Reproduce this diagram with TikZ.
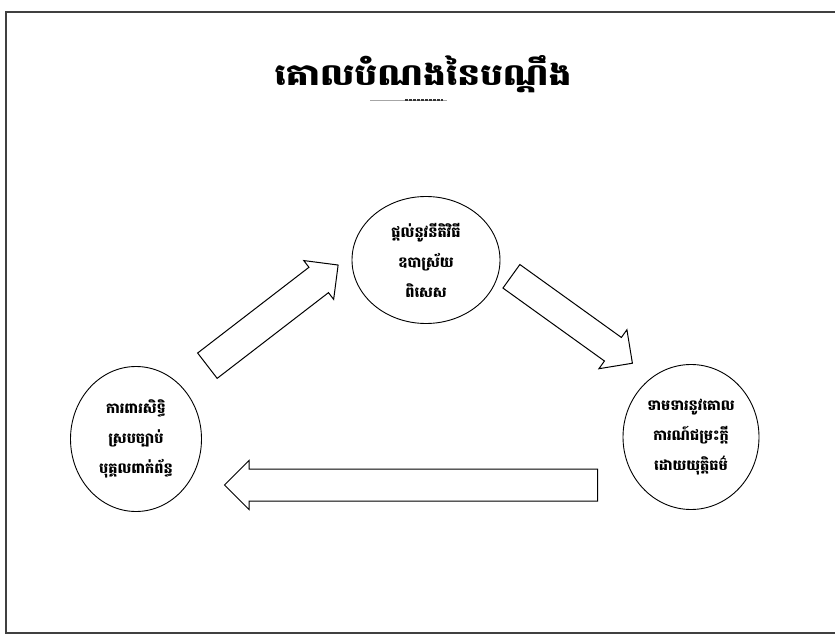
\documentclass[tikz,border=0pt]{standalone}
\usepackage{fontspec}
\newfontfamily\khmer[Script=Khmer]{Battambang}
\newfontfamily\khmerwide[Script=Khmer, FakeStretch=1.2]{Battambang}
\usetikzlibrary{shapes.geometric,shapes.arrows}

\tikzset{
  goal/.style={draw, ellipse, line width=0.9pt, inner sep=0pt, align=center,
    font=\khmer\bfseries\fontsize{14.5}{30}\selectfont},
  bigarrow/.style={draw, single arrow, line width=1pt, fill=white,
    inner xsep=0pt, inner ysep=15.5pt,
    single arrow head extend=8.5pt, single arrow head indent=0pt, anchor=tail}
}

\begin{document}
\begin{tikzpicture}[x=1pt,y=1pt]

  \useasboundingbox (0,0) rectangle (835,641);

  %% frame (right side runs off the page)
  \draw[line width=1.5pt, black!75] (836,629) -- (6,629) -- (6,8) -- (836,8);

  %% title
  \node[font=\khmerwide\bfseries\fontsize{30}{32}\selectfont] (title) at (423,567)
  {គោលបំណងនៃបណ្តឹង};
  \draw[black!35, line width=0.4pt] (370,541) -- (447,541);
  \draw[black!80, line width=1.1pt, dash pattern=on 3pt off 1pt] (405,541) -- (443,541);

  %% the three circles
  \node[goal, minimum width=148pt, minimum height=127pt] (remedy) at (426,381)
  {ផ្តល់នូវនីតិវិធី\\ឧបាស្រ័យ\\ពិសេស};
  \node[goal, minimum width=131pt, minimum height=145pt] (protect) at (136,202)
  {ការពារសិទ្ធិ\\ស្របច្បាប់\\បុគ្គលពាក់ព័ន្ធ};
  \node[goal, minimum width=136pt, minimum height=145pt] (fair) at (691,204)
  {ទាមទារនូវគោល\\ការណ៍ជម្រះក្តី\\ដោយយុត្តិធម៌};

  %% block arrows: protect -> remedy -> fair -> protect
  \node[bigarrow, minimum height=165pt, rotate=37.6] (up) at (207,275) {};
  \node[bigarrow, minimum height=149pt, rotate=-35.7, inner ysep=14pt,
  single arrow head extend=9.5pt] (down) at (511,365) {};
  \node[bigarrow, minimum height=373pt, rotate=180] (back) at (598,156) {};

\end{tikzpicture}
\end{document}
